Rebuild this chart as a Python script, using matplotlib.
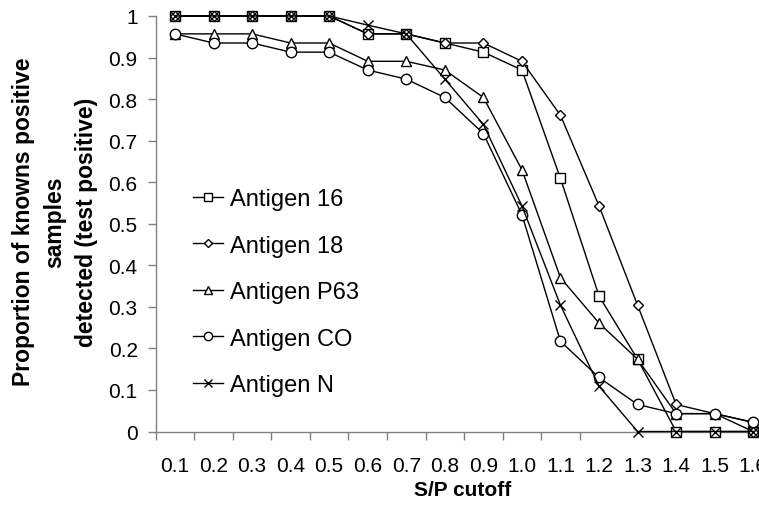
import numpy as np
import matplotlib
matplotlib.use("Agg")
import matplotlib.pyplot as plt

plt.rcParams['font.family'] = ['Liberation Sans', 'DejaVu Sans']

# S/P cutoff categories
cutoffs = ['0.1', '0.2', '0.3', '0.4', '0.5', '0.6', '0.7', '0.8',
           '0.9', '1.0', '1.1', '1.2', '1.3', '1.4', '1.5', '1.6']

antigen_16 = [1.0, 1.0, 1.0, 1.0, 1.0, 0.957, 0.957, 0.935,
              0.913, 0.870, 0.609, 0.326, 0.174, 0.0, 0.0, 0.0]
antigen_18 = [1.0, 1.0, 1.0, 1.0, 1.0, 0.957, 0.957, 0.935,
              0.935, 0.891, 0.761, 0.543, 0.304, 0.065, 0.043, 0.0]
antigen_p63 = [0.957, 0.957, 0.957, 0.935, 0.935, 0.891, 0.891, 0.870,
               0.804, 0.630, 0.370, 0.261, 0.174, 0.043, 0.043, 0.022]
antigen_co = [0.957, 0.935, 0.935, 0.913, 0.913, 0.870, 0.848, 0.804,
              0.717, 0.522, 0.217, 0.130, 0.065, 0.043, 0.043, 0.022]
antigen_n = [1.0, 1.0, 1.0, 1.0, 1.0, 0.978, 0.957, 0.848,
             0.739, 0.543, 0.304, 0.109, 0.0, 0.0, 0.0, 0.0]

W, H = 759, 506
fig = plt.figure(figsize=(W / 100, H / 100), dpi=100)

# axes placed in pixel terms (right edge runs past the figure, like the original)
left, right, top, bottom = 155.7, 772.5, 17.0, 432.5
ax = fig.add_axes([left / W, 1 - bottom / H, (right - left) / W, (bottom - top) / H])

x = np.arange(len(cutoffs))
series = [
    ('Antigen 16', antigen_16, 's', 6.5),
    ('Antigen 18', antigen_18, 'D', 5.0),
    ('Antigen P63', antigen_p63, '^', 7.0),
    ('Antigen CO', antigen_co, 'o', 7.5),
    ('Antigen N', antigen_n, 'x', 7.5),
]
for name, vals, mk, ms in series:
    ax.plot(x, vals, color='black', lw=1.0, marker=mk, markersize=ms,
            markerfacecolor='white', markeredgecolor='black',
            markeredgewidth=1.0, label=name, clip_on=False, zorder=3)

ax.set_xlim(-0.5, len(cutoffs) - 0.5)
ax.set_ylim(0, 1)

for side in ['top', 'right']:
    ax.spines[side].set_visible(False)
for side in ['left', 'bottom']:
    ax.spines[side].set_color('#808080')
    ax.spines[side].set_linewidth(1.0)

yt = np.round(np.arange(0, 1.01, 0.1), 1)
ax.set_yticks(yt)
ax.set_yticklabels(['0'] + [f'{v:.1f}' for v in yt[1:-1]] + ['1'])
ax.tick_params(axis='y', direction='out', length=6, width=1, color='#808080',
               labelsize=15, pad=7)

ax.set_xticks(x)
ax.set_xticklabels(cutoffs)
ax.tick_params(axis='x', which='major', length=0, labelsize=15, pad=18)
ax.set_xticks(np.arange(-0.5, 11), minor=True)
ax.tick_params(axis='x', which='minor', direction='out', length=6, width=1,
               color='#808080')

fig.text(463 / W, 1 - 491 / H, 'S/P cutoff', fontsize=15, fontweight='bold',
         ha='center', va='center')
fig.text(55 / W, 1 - 222 / H,
         'Proportion of knowns positive\nsamples\ndetected (test positive)',
         fontsize=16.5, fontweight='bold', rotation=90, ha='center', va='center',
         multialignment='center', linespacing=1.45)

leg = ax.legend(loc='upper left', bbox_to_anchor=(193 / W, 1 - 189 / H),
                bbox_transform=fig.transFigure, frameon=False, fontsize=17,
                markerscale=0.8, handlelength=1.25, handletextpad=0.3,
                labelspacing=1.04, borderpad=0, borderaxespad=0)

fig.savefig('out.png', dpi=100)
